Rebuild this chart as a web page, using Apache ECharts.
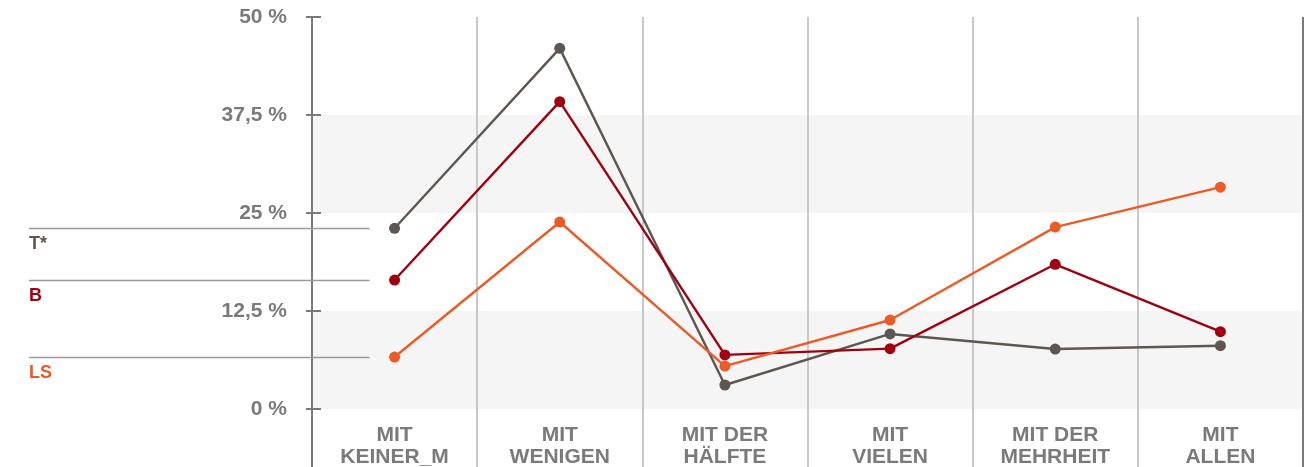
<!DOCTYPE html>
<html>
<head>
<meta charset="utf-8">
<script src="https://cdn.jsdelivr.net/npm/echarts@6/dist/echarts.min.js"></script>
<style>
html,body{margin:0;padding:0;background:#fff;}
#chart{width:1315px;height:467px;}
</style>
</head>
<body>
<div id="chart"></div>
<script>
var categories = ['MIT\nKEINER_M', 'MIT\nWENIGEN', 'MIT DER\nHÄLFTE', 'MIT\nVIELEN', 'MIT DER\nMEHRHEIT', 'MIT\nALLEN'];
var seriesNames = ['T*', 'B', 'LS'];
var valuesT = [23.05, 46.0, 3.06, 9.57, 7.65, 8.07];
var valuesB = [16.45, 39.2, 6.9, 7.7, 18.46, 9.86];
var valuesLS = [6.63, 23.85, 5.48, 11.35, 23.2, 28.3];
var yTickValues = [0, 12.5, 25, 37.5, 50];
var yTickLabels = ['0 %', '12,5 %', '25 %', '37,5 %', '50 %'];

var colors = ['#5e5650', '#a0000f', '#ec5a26'];
var FONT = '"Liberation Sans", Arial, sans-serif';
var AXIS_GRAY = '#7a7a7a';

var chart = echarts.init(document.getElementById('chart'), null, {renderer: 'canvas'});

function yLabel(v) {
  for (var i = 0; i < yTickValues.length; i++) {
    if (Math.abs(yTickValues[i] - v) < 1e-6) return yTickLabels[i];
  }
  return '';
}

var allData = [valuesT, valuesB, valuesLS];

var option = {
  animation: false,
  backgroundColor: '#fff',
  grid: [
    {left: 312, right: 12, top: 17, bottom: 58, containLabel: false, outerBoundsMode: 'none'},
    {left: 312, right: 12, top: 17, bottom: 0, containLabel: false, outerBoundsMode: 'none'}
  ],
  xAxis: [
    {
      type: 'category', gridIndex: 0, data: categories, boundaryGap: true,
      axisLine: {show: false}, axisTick: {show: false}, splitLine: {show: false},
      axisLabel: {
        margin: 15, color: AXIS_GRAY, fontFamily: FONT, fontWeight: 'bold',
        fontSize: 21, lineHeight: 22, interval: 0, verticalAlign: 'top'
      }
    },
    {
      type: 'category', gridIndex: 1, data: categories, boundaryGap: true,
      axisLine: {show: false}, axisTick: {show: false}, axisLabel: {show: false},
      splitLine: {
        show: true, interval: 0,
        lineStyle: {width: 2, color: ['#7a7a7a', '#c8c8cb', '#c8c8cb', '#c8c8cb', '#c8c8cb', '#c8c8cb', '#7a7a7a']}
      }
    }
  ],
  yAxis: [
    {
      type: 'value', gridIndex: 0, min: 0, max: 50, interval: 12.5,
      axisLine: {show: false},
      axisTick: {show: true, length: 6, lineStyle: {color: AXIS_GRAY, width: 2}},
      splitLine: {show: false},
      splitArea: {show: true, areaStyle: {color: ['#f5f5f5', '#ffffff']}},
      axisLabel: {
        margin: 25, color: AXIS_GRAY, fontFamily: FONT, fontWeight: 'bold', fontSize: 21,
        formatter: yLabel
      }
    },
    {
      type: 'value', gridIndex: 0, min: 0, max: 50, interval: 12.5, position: 'left',
      axisLine: {show: false},
      axisTick: {show: true, inside: true, length: 9, lineStyle: {color: AXIS_GRAY, width: 2}},
      splitLine: {show: false}, splitArea: {show: false}, axisLabel: {show: false}
    },
    {
      type: 'value', gridIndex: 1, min: 0, max: 50,
      axisLine: {show: false}, axisTick: {show: false}, axisLabel: {show: false},
      splitLine: {show: false}, splitArea: {show: false}
    }
  ],
  series: allData.map(function (d, i) {
    return {
      name: seriesNames[i], type: 'line', xAxisIndex: 0, yAxisIndex: 0,
      data: d, symbol: 'circle', symbolSize: 11, showSymbol: true,
      clip: false, z: 10 + i,
      lineStyle: {color: colors[i], width: 2.4},
      itemStyle: {color: colors[i]}
    };
  })
};

chart.setOption(option);

// Left-hand series labels with leader lines, placed at each series' first value
var graphics = [];
var firstX = chart.convertToPixel({xAxisIndex: 0}, 0);
for (var i = 0; i < seriesNames.length; i++) {
  var y = Math.round(chart.convertToPixel({yAxisIndex: 0}, allData[i][0])) + 0.5;
  graphics.push({
    type: 'line', z: 5,
    shape: {x1: 29, y1: y, x2: firstX - 25, y2: y},
    style: {stroke: '#9a9a9a', lineWidth: 1.5}
  });
  graphics.push({
    type: 'text', z: 5, x: 29, y: y + 7,
    style: {
      text: seriesNames[i], fill: colors[i], font: 'bold 18px ' + FONT,
      textVerticalAlign: 'top', verticalAlign: 'top'
    }
  });
}
chart.setOption({graphic: graphics});
</script>
</body>
</html>
